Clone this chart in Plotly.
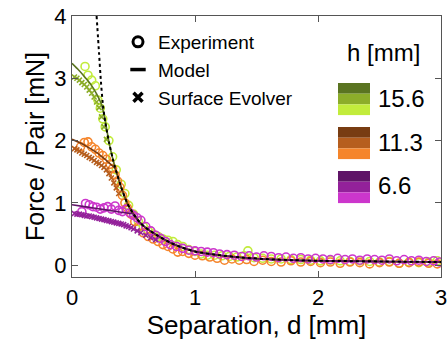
import plotly.graph_objects as go

# ---------------- data ----------------
# asymptotic (dotted) curve
asym_d = [0.20, 0.22, 0.235, 0.25, 0.27, 0.30, 0.33, 0.35, 0.40, 0.45, 0.50, 0.55, 0.60, 0.70, 0.80,
          0.90, 1.00, 1.20, 1.40, 1.60, 1.80, 2.00, 2.50, 3.00]
asym_F = [4.00, 3.40, 2.95, 2.60, 2.30, 1.98, 1.72, 1.57, 1.25, 0.99, 0.82, 0.69, 0.60, 0.47, 0.36,
          0.28, 0.22, 0.16, 0.12, 0.095, 0.08, 0.07, 0.06, 0.05]

# model heads (before joining the asymptote)
model_green_d = [0.0, 0.05, 0.10, 0.15, 0.20, 0.24, 0.27]
model_green_F = [3.24, 3.14, 3.03, 2.91, 2.75, 2.58, 2.32]
model_orange_d = [0.0, 0.08, 0.15, 0.22, 0.28, 0.32, 0.35]
model_orange_F = [2.02, 1.95, 1.87, 1.78, 1.68, 1.61, 1.55]
model_purple_d = [0.0, 0.10, 0.20, 0.30, 0.40, 0.47, 0.50]
model_purple_F = [0.97, 0.94, 0.91, 0.88, 0.85, 0.83, 0.82]

# experiment
exp_green_d = [0.106, 0.13, 0.16, 0.19, 0.21, 0.23, 0.25, 0.27, 0.30, 0.33, 0.36, 0.40, 0.43, 0.46, 0.50,
               0.54, 0.58, 0.62, 0.66, 0.70, 0.74, 0.78, 0.82, 0.86, 0.90, 0.95, 1.00, 1.05, 1.10, 1.16,
               1.22, 1.28, 1.34, 1.40, 1.43, 1.48, 1.55, 1.62, 1.70, 1.78, 1.86, 1.94, 2.02, 2.10, 2.18,
               2.26, 2.34, 2.42, 2.50, 2.58, 2.66, 2.74, 2.82, 2.90, 2.97]
exp_green_F = [3.19, 3.05, 2.97, 2.88, 2.65, 2.52, 2.35, 2.22, 2.00, 1.74, 1.53, 1.30, 1.15, 0.96, 0.82,
               0.70, 0.62, 0.55, 0.50, 0.46, 0.42, 0.40, 0.38, 0.33, 0.30, 0.25, 0.22, 0.18, 0.16, 0.16,
               0.15, 0.14, 0.13, 0.15, 0.23, 0.12, 0.11, 0.10, 0.10, 0.09, 0.09, 0.08, 0.07, 0.08, 0.07,
               0.06, 0.07, 0.06, 0.05, 0.06, 0.03, 0.05, 0.04, 0.05, 0.07]
exp_orange_d = [0.07, 0.10, 0.13, 0.16, 0.19, 0.22, 0.25, 0.28, 0.31, 0.33, 0.35, 0.37, 0.39, 0.41, 0.43,
                0.45, 0.48, 0.51, 0.54, 0.58, 0.62, 0.66, 0.70, 0.74, 0.78, 0.82, 0.86, 0.90, 0.95, 1.00,
                1.06, 1.12, 1.18, 1.24, 1.30, 1.36, 1.42, 1.48, 1.55, 1.62, 1.70, 1.78, 1.86, 1.94, 2.02,
                2.10, 2.18, 2.26, 2.34, 2.42, 2.50, 2.58, 2.66, 2.74, 2.82, 2.90, 2.97]
exp_orange_F = [1.90, 1.97, 1.98, 1.90, 1.86, 1.80, 1.76, 1.70, 1.62, 1.55, 1.45, 1.35, 1.25, 1.12, 1.00,
                0.92, 0.82, 0.70, 0.62, 0.52, 0.46, 0.42, 0.38, 0.33, 0.30, 0.26, 0.21, 0.22, 0.19, 0.16,
                0.15, 0.13, 0.11, 0.08, 0.10, 0.08, 0.09, 0.06, 0.08, 0.06, 0.05, 0.07, 0.05, 0.06, 0.04,
                0.05, 0.03, 0.05, 0.04, 0.02, 0.04, 0.05, 0.03, 0.04, 0.05, 0.03, 0.02]
exp_purple_d = [0.08, 0.11, 0.14, 0.17, 0.20, 0.23, 0.26, 0.29, 0.32, 0.35, 0.38, 0.41, 0.44, 0.47, 0.50,
                0.53, 0.56, 0.60, 0.64, 0.68, 0.72, 0.76, 0.80, 0.85, 0.90, 0.95, 1.00, 1.05, 1.10, 1.15,
                1.20, 1.26, 1.32, 1.38, 1.44, 1.50, 1.56, 1.62, 1.68, 1.74, 1.80, 1.86, 1.92, 1.98, 2.04,
                2.10, 2.16, 2.22, 2.28, 2.34, 2.40, 2.46, 2.52, 2.58, 2.64, 2.70, 2.76, 2.82, 2.88, 2.94, 2.99]
exp_purple_F = [0.86, 0.99, 0.97, 0.94, 0.93, 0.90, 0.92, 0.94, 0.90, 0.95, 0.88, 0.86, 0.90, 0.84, 0.80,
                0.76, 0.72, 0.62, 0.55, 0.48, 0.43, 0.38, 0.33, 0.30, 0.27, 0.24, 0.23, 0.22, 0.21, 0.20,
                0.18, 0.17, 0.16, 0.14, 0.15, 0.13, 0.15, 0.14, 0.12, 0.13, 0.11, 0.12, 0.10, 0.11, 0.10,
                0.09, 0.11, 0.09, 0.10, 0.08, 0.10, 0.09, 0.08, 0.10, 0.07, 0.09, 0.07, 0.08, 0.06, 0.07, 0.05]

# surface evolver
se_green_d = [0.02, 0.04, 0.06, 0.08, 0.10, 0.12, 0.14, 0.16, 0.18, 0.20, 0.22, 0.24, 0.26, 0.28]
se_green_F = [3.02, 3.00, 2.97, 2.93, 2.90, 2.86, 2.81, 2.76, 2.70, 2.62, 2.53, 2.38, 2.22, 2.02]
se_orange_d = [0.02, 0.04, 0.06, 0.08, 0.10, 0.12, 0.14, 0.16, 0.18, 0.20, 0.22, 0.24, 0.26, 0.28,
               0.30, 0.32, 0.34, 0.36, 0.38]
se_orange_F = [1.87, 1.85, 1.83, 1.80, 1.78, 1.76, 1.73, 1.71, 1.68, 1.65, 1.63, 1.60, 1.57, 1.53,
               1.47, 1.40, 1.32, 1.24, 1.15]
se_purple_d = [0.02, 0.04, 0.06, 0.08, 0.10, 0.12, 0.14, 0.16, 0.18, 0.20, 0.22, 0.24, 0.26, 0.28, 0.30,
               0.32, 0.34, 0.36, 0.38, 0.40, 0.42, 0.44, 0.46, 0.48, 0.50, 0.53, 0.56, 0.60, 0.64, 0.68]
se_purple_F = [0.83, 0.82, 0.82, 0.81, 0.80, 0.79, 0.79, 0.78, 0.77, 0.76, 0.75, 0.74, 0.73, 0.72, 0.71,
               0.70, 0.69, 0.68, 0.67, 0.66, 0.65, 0.63, 0.62, 0.60, 0.58, 0.55, 0.52, 0.48, 0.44, 0.41]

h_labels = ["15.6", "11.3", "6.6"]
x_ticks = [0, 1, 2, 3]
y_ticks = [0, 1, 2, 3, 4]

# ---------------- styles ----------------
colors = {
    "15.6": ("#c2ec3c", "#8cad2a", "#5a7421"),
    "11.3": ("#f5852b", "#b65e1e", "#783c12"),
    "6.6": ("#cc36cc", "#93219a", "#5f1467"),
}
FONT = "Liberation Sans, Arial, Helvetica, sans-serif"

fig = go.Figure()

exp_sets = [("15.6", exp_green_d, exp_green_F), ("11.3", exp_orange_d, exp_orange_F),
            ("6.6", exp_purple_d, exp_purple_F)]
se_sets = [("15.6", se_green_d, se_green_F), ("11.3", se_orange_d, se_orange_F),
           ("6.6", se_purple_d, se_purple_F)]
model_sets = [("15.6", model_green_d, model_green_F), ("11.3", model_orange_d, model_orange_F),
              ("6.6", model_purple_d, model_purple_F)]

for h, d, F in exp_sets:
    fig.add_trace(go.Scatter(x=d, y=F, mode="markers", showlegend=False,
                             marker=dict(symbol="circle-open", size=8, color=colors[h][0],
                                         line=dict(width=1.6, color=colors[h][0]))))
for h, d, F in se_sets:
    fig.add_trace(go.Scatter(x=d, y=F, mode="markers", showlegend=False,
                             marker=dict(symbol="x-thin-open", size=5, color=colors[h][1],
                                         line=dict(width=1.6, color=colors[h][1]))))
for h, d, F in model_sets:
    dd = list(d) + [x for x in asym_d if x > d[-1]]
    FF = list(F) + [y for x, y in zip(asym_d, asym_F) if x > d[-1]]
    fig.add_trace(go.Scatter(x=dd, y=FF, mode="lines", showlegend=False,
                             line=dict(color=colors[h][2], width=1.6, shape="spline", smoothing=0.6)))

fig.add_trace(go.Scatter(x=asym_d, y=asym_F, mode="lines", showlegend=False,
                         line=dict(color="black", width=2, dash="dot", shape="spline", smoothing=0.6)))

# legend entries (markers only)
fig.add_trace(go.Scatter(x=[None], y=[None], mode="markers", name="Experiment", legendgroup="a",
                         marker=dict(symbol="circle-open", size=10, color="black", line=dict(width=3))))
fig.add_trace(go.Scatter(x=[None], y=[None], mode="markers", name="Model", legendgroup="b",
                         marker=dict(symbol="line-ew-open", size=11, color="black", line=dict(width=3.5))))
fig.add_trace(go.Scatter(x=[None], y=[None], mode="markers", name="Surface Evolver", legendgroup="c",
                         marker=dict(symbol="x-thin-open", size=9, color="black", line=dict(width=3.5))))

# plot-area geometry (px) for legend placement
L, R, T, B = 72, 441, 16, 277
def px(x):
    return (x - L) / (R - L)
def py(y):
    return (B - y) / (B - T)

shapes = []
annotations = [dict(x=px(383), y=py(53), xref="paper", yref="paper", text="h [mm]", showarrow=False,
                    font=dict(size=24, color="black", family=FONT), xanchor="center", yanchor="middle")]
sw_tops = [83, 127, 171]
for lab, top in zip(h_labels, sw_tops):
    for k, c in enumerate(reversed(colors[lab])):
        shapes.append(dict(type="rect", xref="paper", yref="paper", x0=px(338), x1=px(370),
                           y0=py(top + 10.7 * k), y1=py(top + 10.7 * (k + 1)),
                           fillcolor=c, line=dict(width=0), layer="above"))
    annotations.append(dict(x=px(376), y=py(top + 15), xref="paper", yref="paper", text=lab,
                            showarrow=False, xanchor="left", yanchor="middle",
                            font=dict(size=24, color="black", family=FONT)))

axis_common = dict(showline=True, linecolor="#555555", linewidth=1.3, mirror="ticks",
                   ticks="inside", ticklen=6, tickwidth=1.3, tickcolor="#555555",
                   showgrid=False, zeroline=False, automargin=False,
                   tickfont=dict(size=22, color="black", family=FONT))

fig.update_layout(
    width=448, height=340,
    margin=dict(l=L, r=448 - R, t=T, b=340 - B),
    plot_bgcolor="white", paper_bgcolor="white",
    font=dict(family=FONT, color="black"),
    xaxis=dict(range=[0, 3], tickvals=x_ticks, ticktext=[str(v) for v in x_ticks],
               title=dict(text="Separation, d [mm]", font=dict(size=26, family=FONT), standoff=4),
               **axis_common),
    yaxis=dict(range=[-0.19, 4.0], tickvals=y_ticks, ticktext=[str(v) for v in y_ticks],
               title=dict(text="Force / Pair [mN]", font=dict(size=25, family=FONT), standoff=2),
               **axis_common),
    legend=dict(x=px(118), y=py(23), xanchor="left", yanchor="top", bgcolor="rgba(0,0,0,0)",
                font=dict(size=19, family=FONT, color="black"), tracegroupgap=0,
                itemsizing="trace"),
    shapes=shapes, annotations=annotations,
)

fig.write_html("out.html")
